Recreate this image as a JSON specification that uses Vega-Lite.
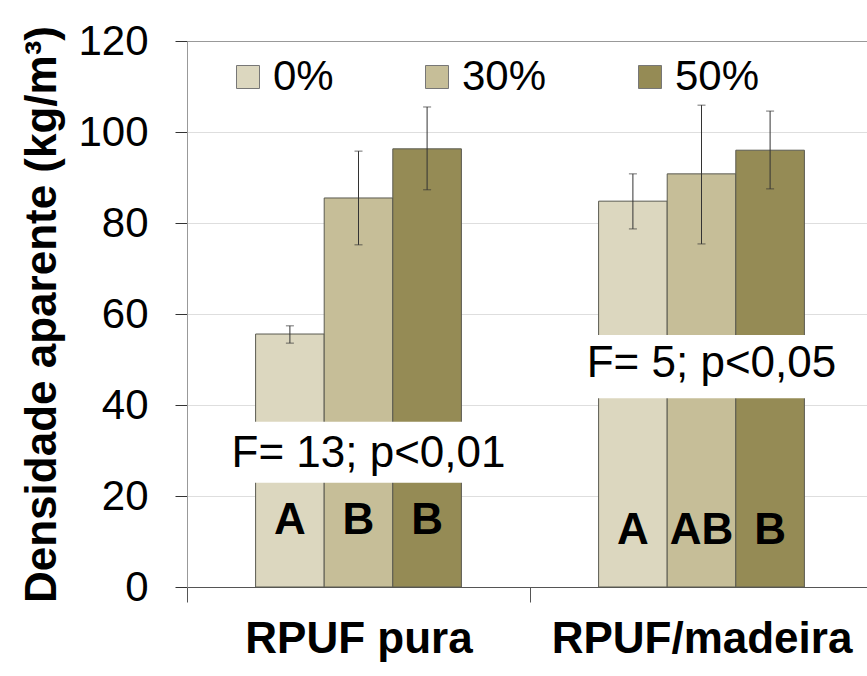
{
  "$schema": "https://vega.github.io/schema/vega-lite/v6.json",
  "width": 680,
  "height": 546,
  "autosize": {"type": "none"},
  "padding": {"left": 187, "top": 41, "right": 0, "bottom": 89},
  "background": "white",
  "config": {
    "view": {"stroke": null},
    "font": "Liberation Sans"
  },
  "datasets": {
    "bars": [
      {"grupo": "RPUF pura", "pct": "0%", "valor": 55.6, "lo": 53.6, "hi": 57.4},
      {"grupo": "RPUF pura", "pct": "30%", "valor": 85.5, "lo": 75.2, "hi": 95.8},
      {"grupo": "RPUF pura", "pct": "50%", "valor": 96.3, "lo": 87.3, "hi": 105.5},
      {"grupo": "RPUF/madeira", "pct": "0%", "valor": 84.8, "lo": 78.7, "hi": 90.8},
      {"grupo": "RPUF/madeira", "pct": "30%", "valor": 90.8, "lo": 75.4, "hi": 105.9},
      {"grupo": "RPUF/madeira", "pct": "50%", "valor": 96.0, "lo": 87.5, "hi": 104.6}
    ],
    "boxes": [
      {"grupo": "RPUF pura", "y1": 22.9, "y2": 36.3, "ty": 29.3, "txt": "F= 13; p<0,01"},
      {"grupo": "RPUF/madeira", "y1": 41.5, "y2": 55.4, "ty": 49.0, "txt": "F= 5; p<0,05"}
    ],
    "letters": [
      {"grupo": "RPUF pura", "pct": "0%", "ly": 14.4, "letra": "A"},
      {"grupo": "RPUF pura", "pct": "30%", "ly": 14.4, "letra": "B"},
      {"grupo": "RPUF pura", "pct": "50%", "ly": 14.4, "letra": "B"},
      {"grupo": "RPUF/madeira", "pct": "0%", "ly": 12.2, "letra": "A"},
      {"grupo": "RPUF/madeira", "pct": "30%", "ly": 12.2, "letra": "AB"},
      {"grupo": "RPUF/madeira", "pct": "50%", "ly": 12.2, "letra": "B"}
    ]
  },
  "encoding": {
    "x": {
      "field": "grupo",
      "type": "nominal",
      "scale": {"domain": ["RPUF pura", "RPUF/madeira"], "range": [0, 686], "paddingInner": 0, "paddingOuter": 0},
      "axis": {
        "title": null,
        "labelAngle": 0,
        "labelFont": "Liberation Sans",
        "labelFontSize": 44,
        "labelFontWeight": "bold",
        "labelColor": "#000",
        "labelPadding": 15,
        "labelLimit": 0,
        "labelOverlap": false,
        "tickBand": "extent",
        "tickSize": 15,
        "tickColor": "#555",
        "domainColor": "#555",
        "grid": false
      }
    }
  },
  "layer": [
    {
      "data": {"name": "bars"},
      "mark": {"type": "bar", "stroke": "#5a5a50", "strokeWidth": 1},
      "encoding": {
        "xOffset": {"field": "pct", "type": "nominal", "scale": {"domain": ["0%", "30%", "50%"], "paddingInner": 0, "paddingOuter": 1.1}},
        "y": {
          "field": "valor",
          "type": "quantitative",
          "scale": {"domain": [0, 120], "nice": false},
          "axis": {
            "title": "Densidade aparente (kg/m³)",
            "titleFont": "Liberation Sans",
            "titleFontSize": 44,
            "titleFontWeight": "bold",
            "titleColor": "#000",
            "titlePadding": 13,
            "values": [0, 20, 40, 60, 80, 100, 120],
            "labelFont": "Liberation Sans",
            "labelFontSize": 42,
            "labelColor": "#000",
            "labelPadding": 27,
            "tickSize": 12,
            "tickColor": "#333",
            "domainColor": "#999",
            "grid": true,
            "gridColor": {"condition": {"test": "datum.value === 120", "value": "#999"}, "value": "#dedede"}
          }
        },
        "color": {
          "field": "pct",
          "type": "nominal",
          "scale": {"domain": ["0%", "30%", "50%"], "range": ["#dcd7bf", "#c6be98", "#958b55"]},
          "legend": {
            "title": null,
            "orient": "none",
            "direction": "horizontal",
            "legendX": 40,
            "legendY": 15,
            "symbolType": "square",
            "symbolSize": 529,
            "symbolStrokeColor": "#777",
            "symbolStrokeWidth": 1,
            "symbolOpacity": 1,
            "labelFont": "Liberation Sans",
            "labelFontSize": 42,
            "labelColor": "#000",
            "labelOffset": 4,
            "columnPadding": 82,
            "labelLimit": 300
          }
        }
      }
    },
    {
      "data": {"name": "bars"},
      "mark": {"type": "rule", "color": "#333", "strokeWidth": 1},
      "encoding": {
        "xOffset": {"field": "pct", "type": "nominal"},
        "y": {"field": "lo", "type": "quantitative"},
        "y2": {"field": "hi"}
      }
    },
    {
      "data": {"name": "bars"},
      "mark": {"type": "tick", "color": "#333", "size": 8, "thickness": 1, "orient": "horizontal"},
      "encoding": {
        "xOffset": {"field": "pct", "type": "nominal"},
        "y": {"field": "lo", "type": "quantitative"}
      }
    },
    {
      "data": {"name": "bars"},
      "mark": {"type": "tick", "color": "#333", "size": 8, "thickness": 1, "orient": "horizontal"},
      "encoding": {
        "xOffset": {"field": "pct", "type": "nominal"},
        "y": {"field": "hi", "type": "quantitative"}
      }
    },
    {
      "data": {"name": "boxes"},
      "mark": {"type": "bar", "fill": "white", "strokeWidth": 0, "width": {"band": 0.85}},
      "encoding": {
        "y": {"field": "y1", "type": "quantitative"},
        "y2": {"field": "y2"}
      }
    },
    {
      "data": {"name": "boxes"},
      "mark": {"type": "text", "font": "Liberation Sans", "fontSize": 44, "color": "#000", "dx": 10, "baseline": "middle", "align": "center"},
      "encoding": {
        "y": {"field": "ty", "type": "quantitative"},
        "text": {"field": "txt"}
      }
    },
    {
      "data": {"name": "letters"},
      "mark": {"type": "text", "font": "Liberation Sans", "fontSize": 44, "fontWeight": "bold", "color": "#000", "baseline": "middle", "align": "center"},
      "encoding": {
        "xOffset": {"field": "pct", "type": "nominal"},
        "y": {"field": "ly", "type": "quantitative"},
        "text": {"field": "letra"}
      }
    }
  ]
}
